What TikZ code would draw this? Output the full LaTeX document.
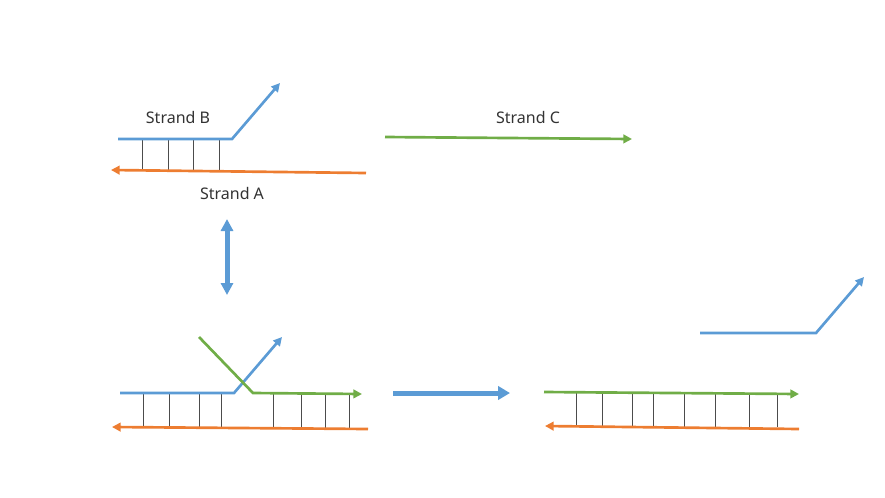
\documentclass[tikz,border=0pt]{standalone}
\usepackage{fontspec}
\setmainfont{Noto Sans}
\usetikzlibrary{arrows.meta,positioning}
\definecolor{strandblue}{HTML}{5B9BD5}
\definecolor{strandorange}{HTML}{ED7D31}
\definecolor{strandgreen}{HTML}{70AD47}

\begin{document}
\begin{tikzpicture}[x=0.75pt,y=-0.75pt]
	\tikzstyle{strand}=[line width=2pt, -{Triangle[length=6.5pt,width=6.5pt]}]
	\tikzstyle{rung}=[draw, black!70, line width=0.55pt]
	\tikzstyle{lbl}=[text=black!80, font=\fontsize{12}{14}\selectfont]
	\tikzstyle{bigarrow}=[strandblue, line width=3.75pt, -{Triangle[length=9pt,width=10pt]}]
	\tikzstyle{dblarrow}=[strandblue, line width=3.75pt, {Triangle[length=9pt,width=9pt]}-{Triangle[length=9pt,width=9pt]}]
	\useasboundingbox (0,0) rectangle (885,497);

	% strand B bound to strand A
	\coordinate (bl) at (118,139);
	\coordinate (bk) at (232,139);
	\coordinate (bt) at (280,83);
	\coordinate (ar) at (366,173);
	\coordinate (at) at (111,170);
	\foreach \x in {142,168,193,219}
		\draw[rung] (\x,139) -- (\x,171);
	\draw[strand, strandblue] (bl) -- (bk) -- (bt);
	\draw[strand, strandorange] (ar) -- (at);
	\node[lbl] (labB) at (178,117) {Strand B};
	\node[lbl] (labA) at (232,193) {Strand A};

	% free strand C
	\coordinate (cl) at (385,137);
	\coordinate (ct) at (632,139);
	\draw[strand, strandgreen] (cl) -- (ct);
	\node[lbl] (labC) at (528,117) {Strand C};

	\coordinate (up) at (227,219);
	\coordinate (dn) at (227,295);
	\draw[dblarrow] (up) -- (dn);

	% strand C invading
	\coordinate (bl2) at (120,393);
	\coordinate (bk2) at (234,393);
	\coordinate (bt2) at (282,337);
	\coordinate (cs2) at (199,337);
	\coordinate (ck2) at (253,393);
	\coordinate (ct2) at (362,394);
	\coordinate (ar2) at (368,429);
	\coordinate (at2) at (112,427);
	\foreach \x in {143,169,199,221,273,301,325,349}
		\draw[rung] (\x,393) -- (\x,428);
	\draw[strand, strandblue] (bl2) -- (bk2) -- (bt2);
	\draw[strand, strandgreen] (cs2) -- (ck2) -- (ct2);
	\draw[strand, strandorange] (ar2) -- (at2);

	\coordinate (go) at (393,393);
	\coordinate (to) at (510,393);
	\draw[bigarrow] (go) -- (to);

	% strand B released
	\coordinate (bl3) at (700,333);
	\coordinate (bk3) at (816,333);
	\coordinate (bt3) at (864,277);
	\coordinate (cl3) at (544,392);
	\coordinate (ct3) at (799,394);
	\coordinate (ar3) at (799,429);
	\coordinate (at3) at (545,426);
	\foreach \x in {576,602,632,653,684,715,749,777}
		\draw[rung] (\x,393) -- (\x,427);
	\draw[strand, strandblue] (bl3) -- (bk3) -- (bt3);
	\draw[strand, strandgreen] (cl3) -- (ct3);
	\draw[strand, strandorange] (ar3) -- (at3);
\end{tikzpicture}
\end{document}
